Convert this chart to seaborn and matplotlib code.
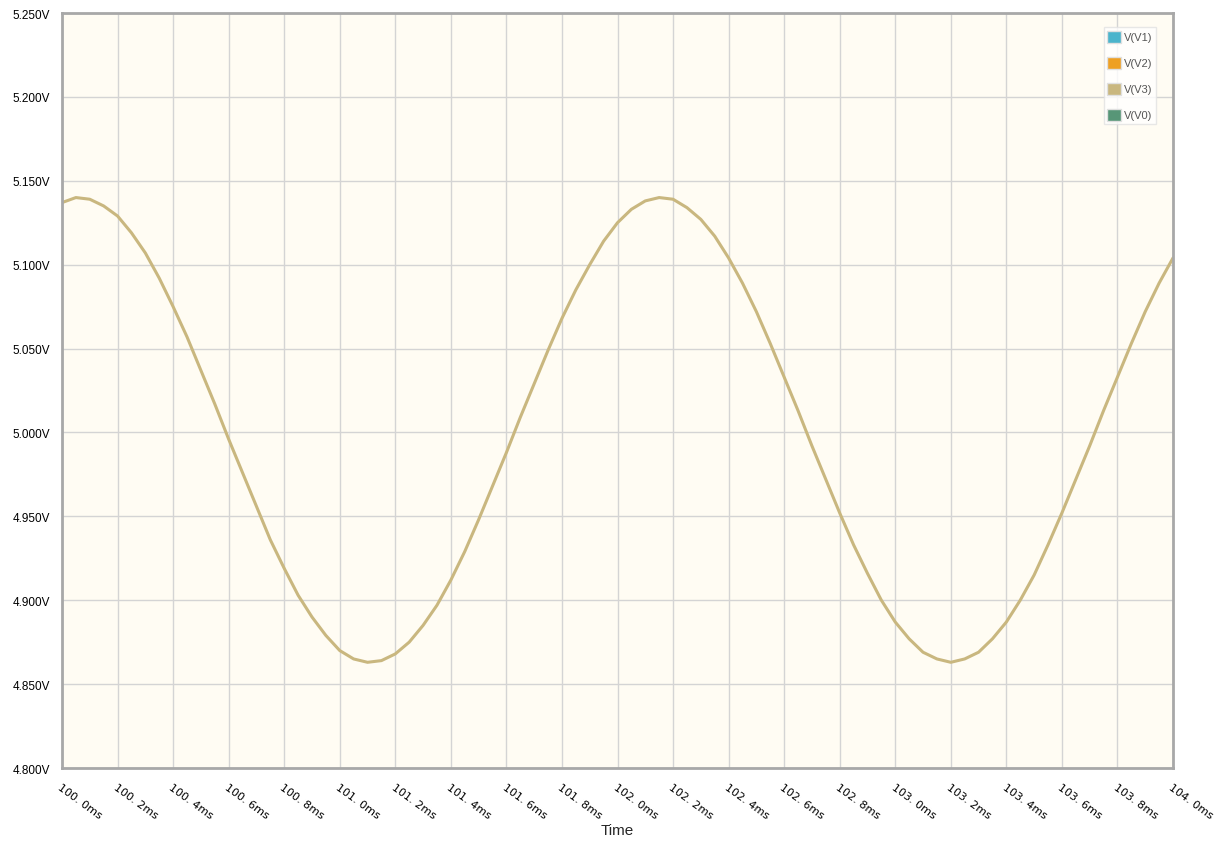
import matplotlib
matplotlib.use("Agg")
import matplotlib.pyplot as plt
from matplotlib.patches import Patch
import seaborn as sns
import pandas as pd

# time in ms, voltage of node V3 (every 0.05 ms)
time_ms = [round(100.0 + 0.05 * i, 2) for i in range(81)]
v3 = [5.137, 5.140, 5.139, 5.135, 5.129, 5.119, 5.107, 5.092, 5.075, 5.057,
      5.037, 5.017, 4.996, 4.976, 4.956, 4.936, 4.919, 4.903, 4.890, 4.879,
      4.870, 4.865, 4.863, 4.864, 4.868, 4.875, 4.885, 4.897, 4.912, 4.929,
      4.948, 4.968, 4.988, 5.009, 5.029, 5.049, 5.068, 5.085, 5.100, 5.114,
      5.125, 5.133, 5.138, 5.140, 5.139, 5.134, 5.127, 5.117, 5.104, 5.089,
      5.072, 5.053, 5.033, 5.013, 4.992, 4.972, 4.952, 4.933, 4.916, 4.900,
      4.887, 4.877, 4.869, 4.865, 4.863, 4.865, 4.869, 4.877, 4.887, 4.900,
      4.915, 4.933, 4.952, 4.972, 4.992, 5.013, 5.033, 5.053, 5.072, 5.089,
      5.104]

series_names = ["V(V1)", "V(V2)", "V(V3)", "V(V0)"]
series_colors = ["#4BB4CC", "#EEA023", "#C9B77F", "#579677"]

x_ticks = [100.0 + 0.2 * i for i in range(21)]
y_ticks = [4.80, 4.85, 4.90, 4.95, 5.00, 5.05, 5.10, 5.15, 5.20, 5.25]

df = pd.DataFrame({"Time": time_ms, "V": v3})

sns.set_style("white")
plt.rcParams["font.family"] = ["Liberation Sans", "DejaVu Sans"]

fig = plt.figure(figsize=(12.14, 8.45), dpi=100)
ax = fig.add_axes([62 / 1214, 1 - 769 / 845, (1173 - 62) / 1214, (769 - 14) / 845])
ax.set_facecolor("#FFFCF3")

sns.lineplot(data=df, x="Time", y="V", ax=ax, color=series_colors[2], linewidth=2.2)

ax.set_xlim(100.0, 104.0)
ax.set_ylim(4.80, 5.25)
ax.set_xticks(x_ticks)
ax.set_yticks(y_ticks)
ax.set_xticklabels([f"{t:.1f}ms".replace(".", ". ") for t in x_ticks],
                   rotation=-36, ha="left", va="top", rotation_mode="anchor",
                   fontsize=8, family=["DejaVu Sans"])
ax.set_yticklabels([f"{v:.3f}V" for v in y_ticks], fontsize=8.5)
ax.grid(True, color="#D4D4D4", linewidth=1)
ax.tick_params(axis="both", length=5, width=1, color="#A0A0A0", colors="#000000")
ax.tick_params(axis="x", pad=5)
for s in ax.spines.values():
    s.set_color("#A8A8A8")
    s.set_linewidth(2)

ax.set_xlabel("Time", fontsize=11)
ax.xaxis.set_label_coords(0.5, -0.073)
ax.set_ylabel("")

handles = [Patch(facecolor=c, edgecolor="#E0E0E0", label=n)
           for n, c in zip(series_names, series_colors)]
leg = ax.legend(handles=handles, loc="upper right", bbox_to_anchor=(0.9895, 0.9885),
                fontsize=8, handlelength=1.25, handleheight=1.3, labelspacing=1.25,
                handletextpad=0.25, borderpad=0.3, frameon=True, fancybox=False)
leg.get_frame().set_edgecolor("#E2E2E2")
leg.get_frame().set_facecolor("#FFFFFF")
leg.get_frame().set_linewidth(1)
for t in leg.get_texts():
    t.set_color("#555555")

fig.savefig("out.png", dpi=100)
